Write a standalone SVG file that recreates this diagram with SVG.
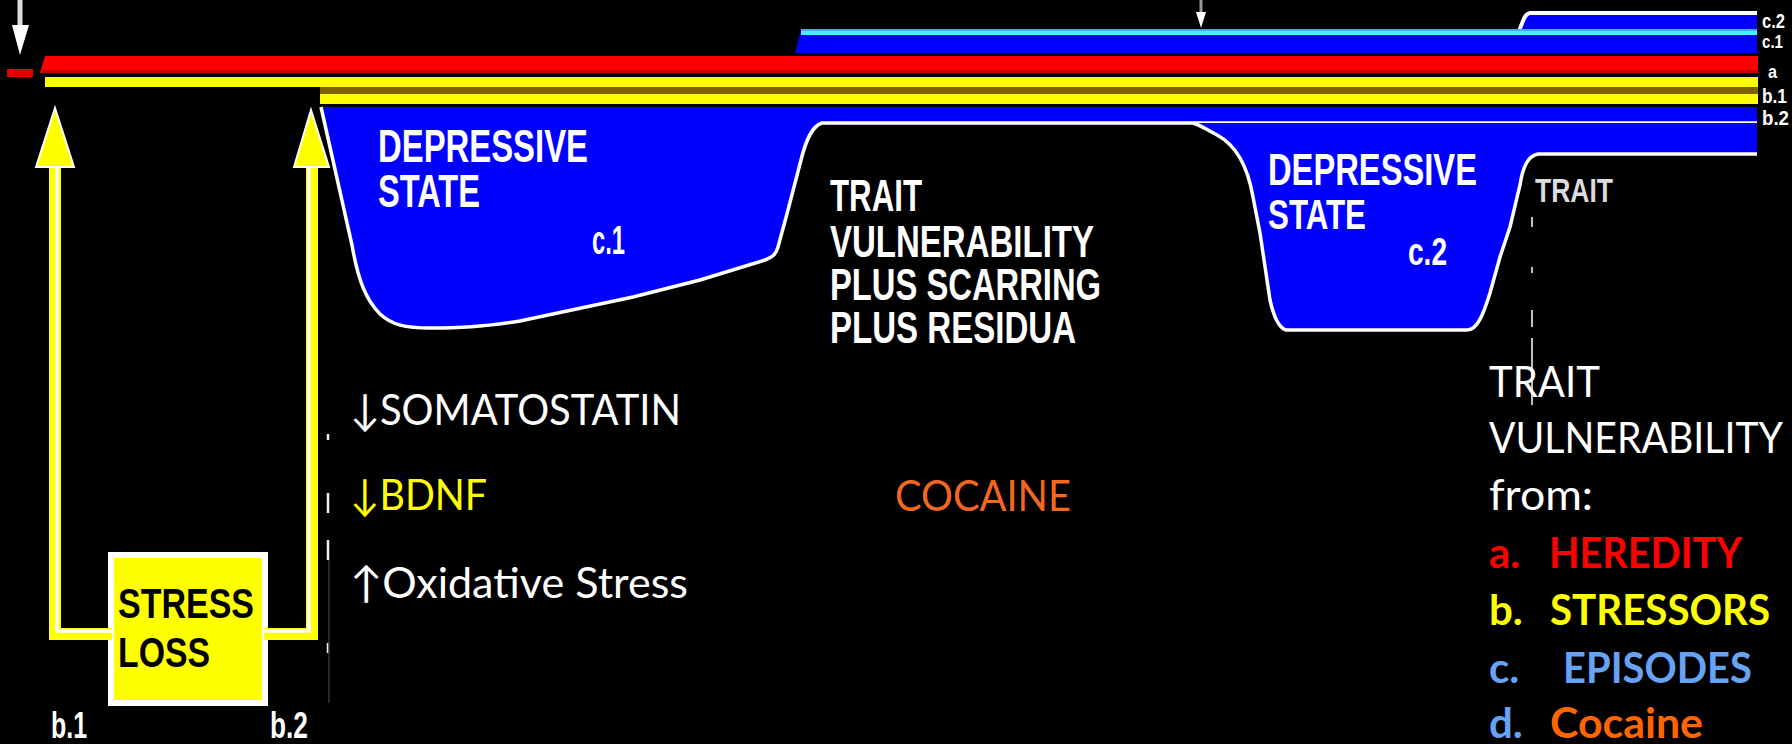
<svg xmlns="http://www.w3.org/2000/svg" width="1792" height="744" viewBox="0 0 1792 744">
<defs>
<style>
.px{font-family:"Liberation Sans",Arial,sans-serif;font-weight:bold;fill:#fff}
.pxk{font-family:"Liberation Sans",Arial,sans-serif;font-weight:bold;fill:#000}
.cal{font-family:Lato,"Open Sans","DejaVu Sans",sans-serif;font-size:43px;fill:#fff}
.calb{font-family:Lato,"Open Sans","DejaVu Sans",sans-serif;font-size:42px;font-weight:bold}
.ystroke{fill:none;stroke:#ffff00;stroke-width:12}
.outline{fill:none;stroke:#fff;stroke-width:3.5}
</style>
</defs>
<rect x="0" y="0" width="1792" height="744" fill="#000"/>

<g id="bands">
  <path d="M1521,30 C1524,22 1524,15 1530,13 L1757,13 L1757,30 Z" fill="#0000ff"/>
  <path d="M1519,31 C1523,22 1524,14 1530,13 L1757,13" fill="none" stroke="#fff" stroke-width="4"/>
  <polygon points="801,30 1757,30 1757,53 795,53" fill="#0000ff"/>
  <rect x="801" y="29" width="956" height="2" fill="#4aa8ff"/>
  <rect x="801" y="31" width="956" height="4" fill="#40f4ff"/>
  <rect x="7" y="69" width="26" height="8" fill="#e00000"/>
  <polygon points="45,56 1758,56 1758,73 40,73" fill="#ff0000"/>
  <rect x="42" y="70" width="1716" height="3" fill="#c00000"/>
  <rect x="45" y="77" width="1713" height="10" fill="#ffff00"/>
  <rect x="320" y="87" width="1438" height="7" fill="#7f6000"/>
  <rect x="320" y="94" width="1438" height="10" fill="#ffff00"/>
</g>

<g id="depressive-state-c1">
  <path d="M321,107 L1757,107 L1757,123 L822,123 C812,126 806,140 801,160 L788,210 L778,247 C776,254 773,257 765,260 L700,280 L633,297 L520,321 C480,327 460,328 430,328 C405,328 392,325 380,314 C366,300 358,280 352,245 Z" fill="#0000ff"/>
  <path class="outline" d="M321,107 L352,245 C358,280 366,300 380,314 C392,325 405,328 430,328 C460,328 480,327 520,321 L633,297 L700,280 L765,260 C773,257 776,254 778,247 L788,210 L801,160 C806,140 812,126 822,123 L1757,123"/>
  <text class="px" x="378" y="162" font-size="46" textLength="210" lengthAdjust="spacingAndGlyphs">DEPRESSIVE</text>
  <text class="px" x="378" y="207" font-size="46" textLength="102" lengthAdjust="spacingAndGlyphs">STATE</text>
  <text class="px" x="592" y="254" font-size="40" textLength="33" lengthAdjust="spacingAndGlyphs">c.1</text>
</g>

<g id="depressive-state-c2">
  <path d="M1193,123 L1757,123 L1757,154 L1538,154 C1528,156 1523,166 1520,185 L1510,227 L1500,257 L1490,293 C1484,312 1478,330 1467,330 L1286,330 C1279,328 1274,318 1270,300 L1260,233 L1253,197 C1248,168 1236,145 1217,135 C1206,129 1200,125 1193,123 Z" fill="#0000ff"/>
  <path class="outline" d="M1193,123 C1200,125 1206,129 1217,135 C1236,145 1248,168 1253,197 L1260,233 L1270,300 C1274,318 1279,328 1286,330 L1467,330 C1478,330 1484,312 1490,293 L1500,257 L1510,227 L1520,185 C1523,166 1528,156 1538,154 L1757,154"/>
  <text class="px" x="1268" y="185" font-size="45" textLength="209" lengthAdjust="spacingAndGlyphs">DEPRESSIVE</text>
  <text class="px" x="1268" y="229" font-size="43" textLength="98" lengthAdjust="spacingAndGlyphs">STATE</text>
  <text class="px" x="1408" y="265" font-size="38" textLength="39" lengthAdjust="spacingAndGlyphs">c.2</text>
</g>

<g id="band-labels">
  <text class="px" x="1762" y="28" font-size="20" textLength="23" lengthAdjust="spacingAndGlyphs">c.2</text>
  <text class="px" x="1762" y="48" font-size="19" textLength="21" lengthAdjust="spacingAndGlyphs">c.1</text>
  <text class="px" x="1768" y="78" font-size="19" textLength="9" lengthAdjust="spacingAndGlyphs">a</text>
  <text class="px" x="1762" y="103" font-size="20" textLength="25" lengthAdjust="spacingAndGlyphs">b.1</text>
  <text class="px" x="1762" y="125" font-size="20" textLength="27" lengthAdjust="spacingAndGlyphs">b.2</text>
  <text class="px" x="51" y="738" font-size="36" textLength="36" lengthAdjust="spacingAndGlyphs">b.1</text>
  <text class="px" x="270" y="738" font-size="36" textLength="38" lengthAdjust="spacingAndGlyphs">b.2</text>
</g>

<g id="trait-vulnerability-scarring">
  <text class="px" x="830" y="211" font-size="44" textLength="92" lengthAdjust="spacingAndGlyphs">TRAIT</text>
  <text class="px" x="830" y="257" font-size="44" textLength="264" lengthAdjust="spacingAndGlyphs">VULNERABILITY</text>
  <text class="px" x="830" y="300" font-size="44" textLength="271" lengthAdjust="spacingAndGlyphs">PLUS SCARRING</text>
  <text class="px" x="830" y="343" font-size="44" textLength="246" lengthAdjust="spacingAndGlyphs">PLUS RESIDUA</text>
</g>

<g id="trait-small">
  <text x="1535" y="202" font-family="'Liberation Sans',Arial,sans-serif" font-weight="bold" font-size="34" fill="#dcdcdc" textLength="78" lengthAdjust="spacingAndGlyphs">TRAIT</text>
</g>

<g id="stress-loss">
  <rect x="111" y="555" width="154" height="148" fill="#ffff00" stroke="#fff" stroke-width="6"/>
  <text class="pxk" x="118" y="618" font-size="43" textLength="136" lengthAdjust="spacingAndGlyphs">STRESS</text>
  <text class="pxk" x="118" y="667" font-size="43" textLength="92" lengthAdjust="spacingAndGlyphs">LOSS</text>
</g>

<g id="biomarkers">
  <text class="cal" x="350" y="425" textLength="331" lengthAdjust="spacingAndGlyphs">↓SOMATOSTATIN</text>
  <text class="cal" x="350" y="510" style="fill:#ffff00" textLength="137" lengthAdjust="spacingAndGlyphs">↓BDNF</text>
  <text class="cal" x="350" y="598" textLength="338" lengthAdjust="spacingAndGlyphs">↑Oxidative Stress</text>
</g>

<g id="cocaine">
  <text class="cal" x="895" y="511" style="fill:#f4671f" font-size="41" textLength="176" lengthAdjust="spacingAndGlyphs">COCAINE</text>
</g>

<g id="legend">
  <text class="cal" x="1489" y="397" font-size="42" textLength="111" lengthAdjust="spacingAndGlyphs">TRAIT</text>
  <text class="cal" x="1489" y="453" font-size="42" textLength="294" lengthAdjust="spacingAndGlyphs">VULNERABILITY</text>
  <text class="cal" x="1489" y="510" font-size="42" textLength="104" lengthAdjust="spacingAndGlyphs">from:</text>
  <text class="calb" fill="#ff0000"><tspan x="1489" y="568">a.</tspan><tspan x="1549" y="568" textLength="193" lengthAdjust="spacingAndGlyphs">HEREDITY</tspan></text>
  <text class="calb" fill="#ffff00"><tspan x="1489" y="625">b.</tspan><tspan x="1550" y="625" textLength="220" lengthAdjust="spacingAndGlyphs">STRESSORS</tspan></text>
  <text class="calb" fill="#66a3f5"><tspan x="1489" y="683">c.</tspan><tspan x="1563" y="683" textLength="189" lengthAdjust="spacingAndGlyphs">EPISODES</tspan></text>
  <text class="calb"><tspan x="1489" y="738" fill="#66a3f5">d.</tspan><tspan x="1550" y="738" fill="#ff6600" textLength="153" lengthAdjust="spacingAndGlyphs">Cocaine</tspan></text>
</g>

<g id="connectors">
  <path class="ystroke" d="M55,165 L55,634 L112,634"/>
  <path class="ystroke" d="M264,634 L312,634 L312,165"/>
  <path d="M57,165 L57,631 L112,631" fill="none" stroke="#fff" stroke-width="3.5"/>
  <path d="M264,631 L309,631 L309,165" fill="none" stroke="#fff" stroke-width="3.5"/>
  <polygon points="55,108 74,167 36,167" fill="#ffff00" stroke="#fff" stroke-width="2"/>
  <polygon points="311,110 329,167 294,167" fill="#ffff00" stroke="#fff" stroke-width="2"/>
  <line x1="20" y1="0" x2="20" y2="27" stroke="#ddd" stroke-width="5"/>
  <polygon points="12,25 29,25 20,55" fill="#fff"/>
  <line x1="1201" y1="0" x2="1201" y2="13" stroke="#999" stroke-width="3"/>
  <polygon points="1196,12 1206,12 1201,28" fill="#fff"/>
  <path d="M1532,217 L1532,227 M1532,267 L1532,273 M1532,310 L1532,327 M1532,338 L1532,405" stroke="#fff" stroke-width="1.5" fill="none"/>
  <path d="M328,434 L328,440 M328,493 L328,513 M328,540 L328,560 M328,643 L328,653" stroke="#eee" stroke-width="2.5" fill="none"/>
  <line x1="329" y1="560" x2="329" y2="703" stroke="#333" stroke-width="1.5"/>
</g>
</svg>
